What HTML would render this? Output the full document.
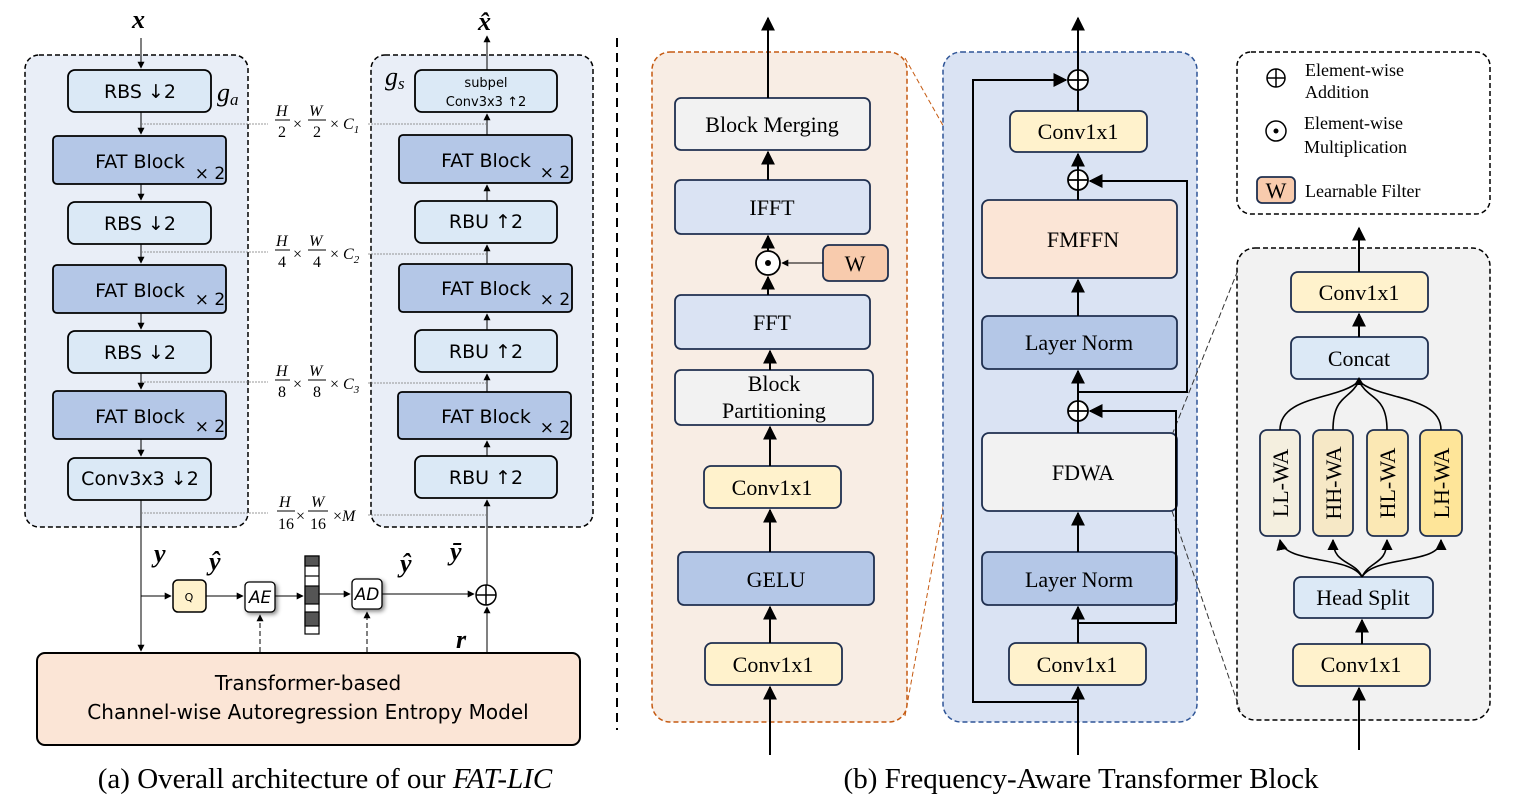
<!DOCTYPE html>
<html><head><meta charset="utf-8"><style>
html,body{margin:0;padding:0;background:#fff;}
svg{display:block;}
.s{font-family:"DejaVu Sans","Liberation Sans",sans-serif;}
.r{font-family:"Liberation Serif",serif;}
</style></head><body>
<svg width="1518" height="797" viewBox="0 0 1518 797" xmlns="http://www.w3.org/2000/svg">
<defs>
<marker id="a" viewBox="0 0 10 10" refX="9" refY="5" markerWidth="7" markerHeight="7" orient="auto-start-reverse"><path d="M0,0 L10,5 L0,10 z" fill="#000"/></marker>
</defs>

<!-- ===== (a) ===== -->
<rect x="25" y="55" width="223" height="472" rx="14" fill="#e9eef7" stroke="#000" stroke-width="1.5" stroke-dasharray="5,3"/>
<rect x="371" y="55" width="222" height="472" rx="14" fill="#e9eef7" stroke="#000" stroke-width="1.5" stroke-dasharray="5,3"/>

<g class="s" font-size="19" text-anchor="middle" stroke="#000" stroke-width="1.8">
<rect x="68" y="70" width="143" height="42" rx="7" fill="#dbe9f6"/>
<rect x="53" y="136" width="173" height="48" rx="4" fill="#b4c7e7"/>
<rect x="68" y="202" width="143" height="42" rx="7" fill="#dbe9f6"/>
<rect x="53" y="265" width="173" height="48" rx="4" fill="#b4c7e7"/>
<rect x="68" y="331" width="143" height="42" rx="7" fill="#dbe9f6"/>
<rect x="53" y="391" width="173" height="48" rx="4" fill="#b4c7e7"/>
<rect x="68" y="458" width="143" height="42" rx="7" fill="#dbe9f6"/>

<rect x="415" y="70" width="142" height="42" rx="7" fill="#dbe9f6"/>
<rect x="399" y="135" width="173" height="48" rx="4" fill="#b4c7e7"/>
<rect x="415" y="201" width="142" height="42" rx="7" fill="#dbe9f6"/>
<rect x="399" y="264" width="173" height="48" rx="4" fill="#b4c7e7"/>
<rect x="415" y="330" width="142" height="42" rx="7" fill="#dbe9f6"/>
<rect x="398" y="392" width="173" height="47" rx="4" fill="#b4c7e7"/>
<rect x="415" y="456" width="142" height="42" rx="7" fill="#dbe9f6"/>
</g>
<g class="s" font-size="19" fill="#000" text-anchor="middle">
<text x="140" y="98">RBS ↓2</text>
<text x="140" y="168">FAT Block</text><text x="210" y="179" font-size="17">× 2</text>
<text x="140" y="230">RBS ↓2</text>
<text x="140" y="297">FAT Block</text><text x="210" y="305" font-size="17">× 2</text>
<text x="140" y="359">RBS ↓2</text>
<text x="140" y="423">FAT Block</text><text x="210" y="432" font-size="17">× 2</text>
<text x="140" y="485">Conv3x3 ↓2</text>
<text x="486" y="87" font-size="13">subpel</text>
<text x="486" y="106" font-size="13">Conv3x3 ↑2</text>
<text x="486" y="167">FAT Block</text><text x="555" y="178" font-size="17">× 2</text>
<text x="486" y="228">RBU ↑2</text>
<text x="486" y="295">FAT Block</text><text x="555" y="305" font-size="17">× 2</text>
<text x="486" y="358">RBU ↑2</text>
<text x="486" y="423">FAT Block</text><text x="555" y="433" font-size="17">× 2</text>
<text x="486" y="484">RBU ↑2</text>
</g>
<g class="r" font-style="italic" font-size="26">
<text x="217" y="101">g<tspan font-size="17" dy="4">a</tspan></text>
<text x="385" y="85">g<tspan font-size="17" dy="4">s</tspan></text>
</g>
<g stroke="#000" stroke-width="1" fill="none">
<line x1="141" y1="38" x2="141" y2="68" marker-end="url(#a)"/>
<line x1="141" y1="112" x2="141" y2="134" marker-end="url(#a)"/>
<line x1="141" y1="184" x2="141" y2="200" marker-end="url(#a)"/>
<line x1="141" y1="244" x2="141" y2="263" marker-end="url(#a)"/>
<line x1="141" y1="313" x2="141" y2="329" marker-end="url(#a)"/>
<line x1="141" y1="373" x2="141" y2="389" marker-end="url(#a)"/>
<line x1="141" y1="439" x2="141" y2="456" marker-end="url(#a)"/>
<line x1="141" y1="500" x2="141" y2="651" marker-end="url(#a)"/>
<line x1="487" y1="70" x2="487" y2="36" marker-end="url(#a)"/>
<line x1="487" y1="135" x2="487" y2="114" marker-end="url(#a)"/>
<line x1="487" y1="201" x2="487" y2="185" marker-end="url(#a)"/>
<line x1="487" y1="264" x2="487" y2="245" marker-end="url(#a)"/>
<line x1="487" y1="330" x2="487" y2="314" marker-end="url(#a)"/>
<line x1="487" y1="392" x2="487" y2="374" marker-end="url(#a)"/>
<line x1="487" y1="456" x2="487" y2="441" marker-end="url(#a)"/>
<line x1="487" y1="585" x2="487" y2="500" marker-end="url(#a)"/>
<line x1="487" y1="653" x2="487" y2="607" marker-end="url(#a)"/>
</g>
<g stroke="#777" stroke-width="0.8" stroke-dasharray="2,1" fill="none">
<line x1="141" y1="124" x2="268" y2="124"/><line x1="368" y1="124" x2="487" y2="124"/>
<line x1="141" y1="252" x2="268" y2="252"/><line x1="368" y1="254" x2="487" y2="254"/>
<line x1="141" y1="382" x2="268" y2="382"/><line x1="368" y1="383" x2="487" y2="383"/>
<line x1="141" y1="513" x2="268" y2="513"/><line x1="368" y1="515" x2="487" y2="515"/>
</g>
<g class="r" font-style="italic" font-size="16" fill="#000">
<text x="276" y="116">H</text><line x1="275" y1="120" x2="290" y2="120" stroke="#000"/><text x="278" y="137" font-style="normal">2</text>
<text x="293" y="129" font-style="normal">×</text>
<text x="309" y="116">W</text><line x1="308" y1="120" x2="326" y2="120" stroke="#000"/><text x="313" y="137" font-style="normal">2</text>
<text x="330" y="129"><tspan font-style="normal">× </tspan>C<tspan font-size="11" dy="4">1</tspan></text>
<text x="276" y="246">H</text><line x1="275" y1="250" x2="290" y2="250" stroke="#000"/><text x="278" y="267" font-style="normal">4</text>
<text x="293" y="259" font-style="normal">×</text>
<text x="309" y="246">W</text><line x1="308" y1="250" x2="326" y2="250" stroke="#000"/><text x="313" y="267" font-style="normal">4</text>
<text x="330" y="259"><tspan font-style="normal">× </tspan>C<tspan font-size="11" dy="4">2</tspan></text>
<text x="276" y="376">H</text><line x1="275" y1="380" x2="290" y2="380" stroke="#000"/><text x="278" y="397" font-style="normal">8</text>
<text x="293" y="389" font-style="normal">×</text>
<text x="309" y="376">W</text><line x1="308" y1="380" x2="326" y2="380" stroke="#000"/><text x="313" y="397" font-style="normal">8</text>
<text x="330" y="389"><tspan font-style="normal">× </tspan>C<tspan font-size="11" dy="4">3</tspan></text>
<text x="279" y="507">H</text><line x1="277" y1="511" x2="295" y2="511" stroke="#000"/><text x="278" y="529" font-style="normal">16</text>
<text x="296" y="521" font-style="normal">×</text>
<text x="311" y="507">W</text><line x1="308" y1="511" x2="328" y2="511" stroke="#000"/><text x="310" y="529" font-style="normal">16</text>
<text x="333" y="521"><tspan font-style="normal">×</tspan>M</text>
</g>
<g class="r" font-weight="bold" font-style="italic" font-size="26" fill="#000">
<text x="132" y="28">x</text>
<text x="478" y="30">x̂</text>
<text x="154" y="562">y</text>
<text x="209" y="570">ŷ</text>
<text x="400" y="572">ŷ</text>
<text x="450" y="560">ȳ</text>
<text x="456" y="648">r</text>
</g>
<line x1="141" y1="596" x2="171" y2="596" stroke="#000" marker-end="url(#a)"/>
<rect x="173" y="580" width="33" height="32" rx="5" fill="#fff2cc" stroke="#000" stroke-width="1.5"/>
<text x="189" y="601" class="s" font-size="11" text-anchor="middle">Q</text>
<line x1="206" y1="596" x2="243" y2="596" stroke="#000" marker-end="url(#a)"/>
<rect x="245" y="582" width="30" height="30" rx="4" fill="#fff" stroke="#000" stroke-width="1.3" style="filter:drop-shadow(2px 2px 2px #888)"/>
<text x="260" y="603" class="s" font-size="17" font-style="italic" text-anchor="middle">AE</text>
<line x1="275" y1="596" x2="303" y2="596" stroke="#000" marker-end="url(#a)"/>
<g stroke="#000" stroke-width="1.2">
<rect x="305" y="556" width="14" height="78" fill="#fff"/>
<rect x="305" y="556" width="14" height="10" fill="#555"/>
<rect x="305" y="586" width="14" height="18" fill="#555"/>
<rect x="305" y="612" width="14" height="14" fill="#555"/>
<line x1="305" y1="576" x2="319" y2="576"/>
</g>
<line x1="319" y1="594" x2="350" y2="594" stroke="#000" marker-end="url(#a)"/>
<rect x="352" y="579" width="30" height="30" rx="4" fill="#fff" stroke="#000" stroke-width="1.3" style="filter:drop-shadow(2px 2px 2px #888)"/>
<text x="367" y="600" class="s" font-size="17" font-style="italic" text-anchor="middle">AD</text>
<line x1="382" y1="594" x2="474" y2="594" stroke="#000" marker-end="url(#a)"/>
<circle cx="486" cy="595" r="10" fill="#fff" stroke="#000" stroke-width="1.5"/>
<path d="M476,595 H496 M486,585 V605" stroke="#000" stroke-width="1.5"/>
<line x1="260" y1="652" x2="260" y2="615" stroke="#000" stroke-dasharray="5,3" marker-end="url(#a)"/>
<line x1="367" y1="652" x2="367" y2="612" stroke="#000" stroke-dasharray="5,3" marker-end="url(#a)"/>
<rect x="37" y="653" width="543" height="92" rx="8" fill="#fbe5d6" stroke="#000" stroke-width="2"/>
<text x="308" y="690" class="s" font-size="20" text-anchor="middle">Transformer-based</text>
<text x="308" y="719" class="s" font-size="20" text-anchor="middle">Channel-wise Autoregression Entropy Model</text>
<text x="325" y="788" class="r" font-size="29" text-anchor="middle">(a) Overall architecture of our <tspan font-style="italic">FAT-LIC</tspan></text>

<line x1="617" y1="38" x2="617" y2="730" stroke="#000" stroke-width="2" stroke-dasharray="9,6"/>

<!-- ===== (b) ===== -->
<line x1="905" y1="58" x2="985" y2="200" stroke="#c55a11" stroke-dasharray="5,3"/>
<line x1="905" y1="716" x2="985" y2="278" stroke="#c55a11" stroke-dasharray="5,3"/>
<rect x="652" y="52" width="255" height="670" rx="18" fill="#f8ede4" stroke="#c55a11" stroke-width="1.5" stroke-dasharray="5,3"/>
<rect x="943" y="52" width="254" height="670" rx="18" fill="#dae3f3" stroke="#2f5597" stroke-width="1.5" stroke-dasharray="5,3"/>
<rect x="1237" y="52" width="253" height="162" rx="14" fill="#fff" stroke="#000" stroke-width="1.5" stroke-dasharray="5,3"/>
<rect x="1237" y="248" width="253" height="472" rx="18" fill="#f2f2f2" stroke="#000" stroke-width="1.5" stroke-dasharray="5,3"/>
<line x1="1172" y1="435" x2="1238" y2="270" stroke="#333" stroke-dasharray="6,3"/>
<line x1="1172" y1="511" x2="1240" y2="710" stroke="#333" stroke-dasharray="6,3"/>

<g stroke="#1f2f4f" stroke-width="1.8">
<rect x="675" y="98" width="195" height="52" rx="6" fill="#f2f2f2"/>
<rect x="675" y="180" width="195" height="54" rx="6" fill="#dae3f3"/>
<rect x="823" y="245" width="65" height="36" rx="6" fill="#f8cbad"/>
<rect x="675" y="295" width="195" height="54" rx="6" fill="#dae3f3"/>
<rect x="675" y="370" width="198" height="55" rx="6" fill="#f2f2f2"/>
<rect x="704" y="466" width="137" height="42" rx="7" fill="#fff2cc"/>
<rect x="678" y="552" width="196" height="53" rx="6" fill="#b4c7e7"/>
<rect x="705" y="643" width="137" height="42" rx="7" fill="#fff2cc"/>

<rect x="1010" y="111" width="137" height="41" rx="7" fill="#fff2cc"/>
<rect x="982" y="200" width="195" height="78" rx="7" fill="#fbe5d6"/>
<rect x="982" y="316" width="195" height="53" rx="6" fill="#b4c7e7"/>
<rect x="982" y="433" width="195" height="78" rx="7" fill="#f2f2f2"/>
<rect x="982" y="552" width="195" height="53" rx="6" fill="#b4c7e7"/>
<rect x="1009" y="643" width="137" height="42" rx="7" fill="#fff2cc"/>

<rect x="1291" y="272" width="137" height="40" rx="7" fill="#fff2cc"/>
<rect x="1291" y="337" width="137" height="42" rx="7" fill="#dce9f6"/>
<rect x="1260" y="430" width="40" height="106" rx="7" fill="#f4efdf"/>
<rect x="1313" y="430" width="40" height="106" rx="7" fill="#f6e8c6"/>
<rect x="1367" y="430" width="41" height="106" rx="7" fill="#fbe8b4"/>
<rect x="1420" y="430" width="42" height="106" rx="7" fill="#fee599"/>
<rect x="1294" y="577" width="139" height="41" rx="7" fill="#dce9f6"/>
<rect x="1293" y="644" width="137" height="42" rx="7" fill="#fff2cc"/>
<rect x="1257" y="177" width="38" height="26" rx="5" fill="#f8cbad"/>
</g>
<g class="r" font-size="22" text-anchor="middle" fill="#000">
<text x="772" y="132">Block Merging</text>
<text x="772" y="215">IFFT</text>
<text x="855" y="271">W</text>
<text x="772" y="330">FFT</text>
<text x="774" y="391">Block</text>
<text x="774" y="418">Partitioning</text>
<text x="772" y="495">Conv1x1</text>
<text x="776" y="587">GELU</text>
<text x="773" y="672">Conv1x1</text>
<text x="1078" y="139">Conv1x1</text>
<text x="1083" y="247">FMFFN</text>
<text x="1079" y="350">Layer Norm</text>
<text x="1083" y="480">FDWA</text>
<text x="1079" y="587">Layer Norm</text>
<text x="1077" y="672">Conv1x1</text>
<text x="1359" y="300">Conv1x1</text>
<text x="1359" y="366">Concat</text>
<text x="1363" y="605">Head Split</text>
<text x="1361" y="672">Conv1x1</text>
<text transform="translate(1288,483) rotate(-90)">LL-WA</text>
<text transform="translate(1341,483) rotate(-90)">HH-WA</text>
<text transform="translate(1395,483) rotate(-90)">HL-WA</text>
<text transform="translate(1449,483) rotate(-90)">LH-WA</text>
<text x="1276" y="198">W</text>
</g>
<g class="r" font-size="18" fill="#000">
<text x="1305" y="76">Element-wise</text>
<text x="1305" y="98">Addition</text>
<text x="1304" y="129">Element-wise</text>
<text x="1304" y="153">Multiplication</text>
<text x="1305" y="197">Learnable Filter</text>
</g>
<circle cx="1276" cy="78" r="9" fill="#fff" stroke="#000" stroke-width="1.5"/>
<path d="M1267,78 H1285 M1276,69 V87" stroke="#000" stroke-width="1.5"/>
<circle cx="1276" cy="131" r="10" fill="#fff" stroke="#000" stroke-width="1.5"/>
<circle cx="1276" cy="131" r="2.5" fill="#000"/>

<g stroke="#000" stroke-width="2" fill="none">
<line x1="770" y1="755" x2="770" y2="687" marker-end="url(#a)"/>
<line x1="770" y1="643" x2="770" y2="607" marker-end="url(#a)"/>
<line x1="770" y1="552" x2="770" y2="510" marker-end="url(#a)"/>
<line x1="770" y1="466" x2="770" y2="427" marker-end="url(#a)"/>
<line x1="770" y1="370" x2="770" y2="351" marker-end="url(#a)"/>
<line x1="768" y1="295" x2="768" y2="277" marker-end="url(#a)"/>
<line x1="768" y1="251" x2="768" y2="236" marker-end="url(#a)"/>
<line x1="768" y1="180" x2="768" y2="152" marker-end="url(#a)"/>
<line x1="768" y1="98" x2="768" y2="18" marker-end="url(#a)"/>
<line x1="823" y1="263" x2="782" y2="263" stroke-width="1" marker-end="url(#a)"/>
<line x1="1078" y1="755" x2="1078" y2="687" marker-end="url(#a)"/>
<line x1="1078" y1="643" x2="1078" y2="607" marker-end="url(#a)"/>
<line x1="1078" y1="552" x2="1078" y2="513" marker-end="url(#a)"/>
<line x1="1078" y1="433" x2="1078" y2="421"/>
<line x1="1078" y1="401" x2="1078" y2="371" marker-end="url(#a)"/>
<line x1="1078" y1="316" x2="1078" y2="280" marker-end="url(#a)"/>
<line x1="1078" y1="200" x2="1078" y2="190"/>
<line x1="1078" y1="170" x2="1078" y2="154" marker-end="url(#a)"/>
<line x1="1078" y1="111" x2="1078" y2="90"/>
<line x1="1078" y1="70" x2="1078" y2="18" marker-end="url(#a)"/>
<polyline points="1078,702 973,702 973,80 1066,80" marker-end="url(#a)"/>
<polyline points="1078,623 1176,623 1176,411 1090,411" marker-end="url(#a)"/>
<polyline points="1078,392 1187,392 1187,181 1090,181" marker-end="url(#a)"/>
<line x1="1359" y1="750" x2="1359" y2="688" marker-end="url(#a)"/>
<line x1="1362" y1="644" x2="1362" y2="620" marker-end="url(#a)"/>
<line x1="1359" y1="337" x2="1359" y2="314" marker-end="url(#a)"/>
<line x1="1359" y1="272" x2="1359" y2="228" marker-end="url(#a)"/>
</g>
<g fill="#fff" stroke="#000" stroke-width="1.8">
<circle cx="1078" cy="80" r="10"/><circle cx="1078" cy="180" r="10"/><circle cx="1078" cy="411" r="10"/>
<circle cx="768" cy="263" r="12"/>
</g>
<path d="M1068,80 H1088 M1078,70 V90 M1068,180 H1088 M1078,170 V190 M1068,411 H1088 M1078,401 V421" stroke="#000" stroke-width="1.8"/>
<circle cx="768" cy="263" r="3" fill="#000"/>
<g stroke="#000" stroke-width="1.6" fill="none">
<path d="M1280,430 C1280,395 1340,400 1359,381"/>
<path d="M1333,430 C1333,395 1350,400 1359,381"/>
<path d="M1387,430 C1387,395 1368,400 1359,381"/>
<path d="M1441,430 C1441,395 1378,400 1359,381"/>
<path d="M1362,577 C1350,555 1285,565 1280,540" marker-end="url(#a)"/>
<path d="M1362,577 C1355,560 1333,565 1333,540" marker-end="url(#a)"/>
<path d="M1362,577 C1370,560 1387,565 1387,540" marker-end="url(#a)"/>
<path d="M1362,577 C1375,555 1441,565 1441,540" marker-end="url(#a)"/>
</g>
<path d="M1354,385 L1359,377 L1364,385 z" fill="#000"/>
<text x="1081" y="788" class="r" font-size="29" text-anchor="middle">(b) Frequency-Aware Transformer Block</text>
</svg>
</body></html>
